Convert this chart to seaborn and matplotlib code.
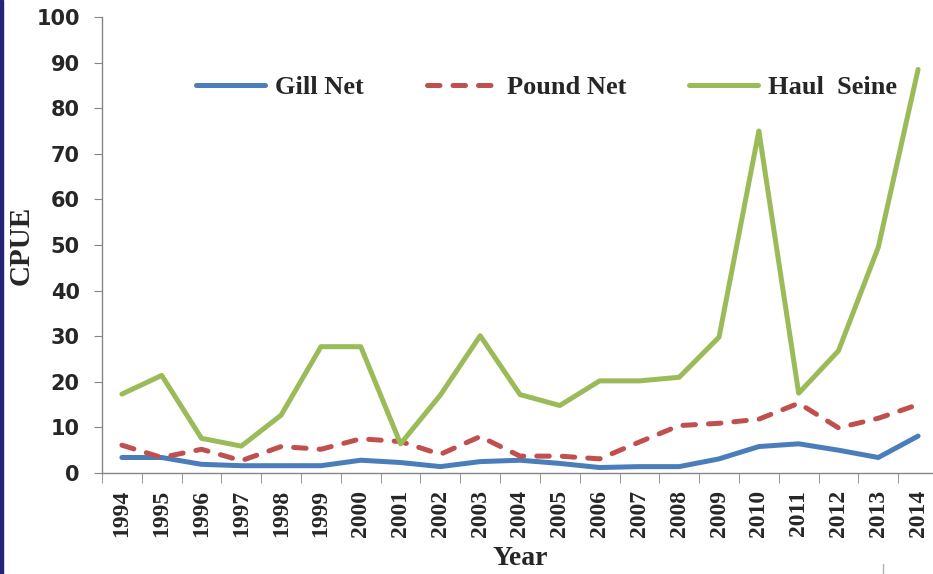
import numpy as np
import pandas as pd
import seaborn as sns
import matplotlib as mpl
import matplotlib.pyplot as plt
from matplotlib.lines import Line2D
from matplotlib.patches import Rectangle
from matplotlib.ticker import FixedLocator

# === DATA ===
years = list(range(1994, 2015))
gill_net = [3.4, 3.4, 1.9, 1.6, 1.6, 1.6, 2.8, 2.3, 1.4, 2.5, 2.8,
            2.1, 1.2, 1.4, 1.4, 3.1, 5.8, 6.4, 5.0, 3.4, 8.1]
pound_net = [6.1, 3.4, 5.2, 2.7, 5.8, 5.2, 7.5, 6.9, 4.1, 8.0, 3.7,
             3.7, 3.1, 6.8, 10.4, 10.9, 11.8, 15.3, 9.9, 12.0, 15.0]
haul_seine = [17.3, 21.4, 7.6, 5.9, 12.7, 27.7, 27.7, 6.4, 17.1, 30.1, 17.2,
              14.8, 20.2, 20.2, 21.0, 29.8, 75.0, 17.5, 26.8, 49.5, 88.5]
series_names = ['Gill Net', 'Pound Net', 'Haul  Seine']
series_colors = ['#4a7ebb', '#c0504d', '#9bbb59']

df = pd.DataFrame({
    'Year': years * 3,
    'CPUE': gill_net + pound_net + haul_seine,
    'Gear': [series_names[0]] * 21 + [series_names[1]] * 21 + [series_names[2]] * 21,
})

# === PLOT SETTINGS ===
sns.set_style('white')
mpl.rcParams.update({
    'font.family': 'DejaVu Sans',
    'axes.edgecolor': '#868686',
    'axes.linewidth': 1.0,
})

fig = plt.figure(figsize=(9.33, 5.74), dpi=100)
ax = fig.add_axes([102 / 933, 1 - 473 / 574, 836 / 933, 456 / 574])

for name, col in zip(series_names, series_colors):
    sub = df[df['Gear'] == name]
    sns.lineplot(data=sub, x='Year', y='CPUE', color=col, linewidth=3.6,
                 label=name, ax=ax, legend=False)
    ln = ax.lines[-1]
    ln.set_solid_capstyle('round')
    ln.set_solid_joinstyle('round')
    if name == 'Pound Net':
        ln.set_dashes((2.5, 2.6))
        ln.set_dash_capstyle('round')

# === AXES ===
ax.set_xlim(1993.5, 2014.5)
ax.set_ylim(0, 100)
ax.set_yticks(np.arange(0, 101, 10))
ax.set_xticks(years)
ax.set_xticklabels([str(y) for y in years], rotation=90,
                   fontfamily='Liberation Serif', fontweight='bold', fontsize=17)
ax.xaxis.set_minor_locator(FixedLocator(np.arange(1993.5, 2015, 1)))
ax.tick_params(axis='x', which='major', length=0, pad=12)
ax.tick_params(axis='x', which='minor', length=7, color='#868686', direction='out', bottom=True)
ax.tick_params(axis='y', length=6, color='#868686', direction='out', left=True, pad=10)
for lab in ax.get_yticklabels():
    lab.set_fontweight('bold')
    lab.set_fontsize(15)

for side in ['top', 'right']:
    ax.spines[side].set_visible(False)

ax.set_ylabel('CPUE', fontfamily='Liberation Serif', fontweight='bold', fontsize=21)
ax.yaxis.set_label_coords(-0.080, 0.5)
ax.set_xlabel('Year', fontfamily='Liberation Serif', fontweight='bold', fontsize=20)
ax.xaxis.set_label_coords(0.5, -0.16)

# === LEGEND ===
leg = ax.legend(loc='center', bbox_to_anchor=(0.532, 0.846), ncol=3, frameon=False,
                handlelength=2.6, handletextpad=0.4, columnspacing=2.4,
                prop={'family': 'Liberation Serif', 'weight': 'bold', 'size': 19})

# === DECORATION ===
fig.add_artist(Rectangle((0, 0), 3 / 933, 1, transform=fig.transFigure,
                         color='#23237a', zorder=10))
fig.add_artist(Line2D([883 / 933, 883 / 933], [0, 10 / 574], transform=fig.transFigure,
                      color='#b0b0b0', linewidth=1))

fig.savefig('out.png', dpi=100)
